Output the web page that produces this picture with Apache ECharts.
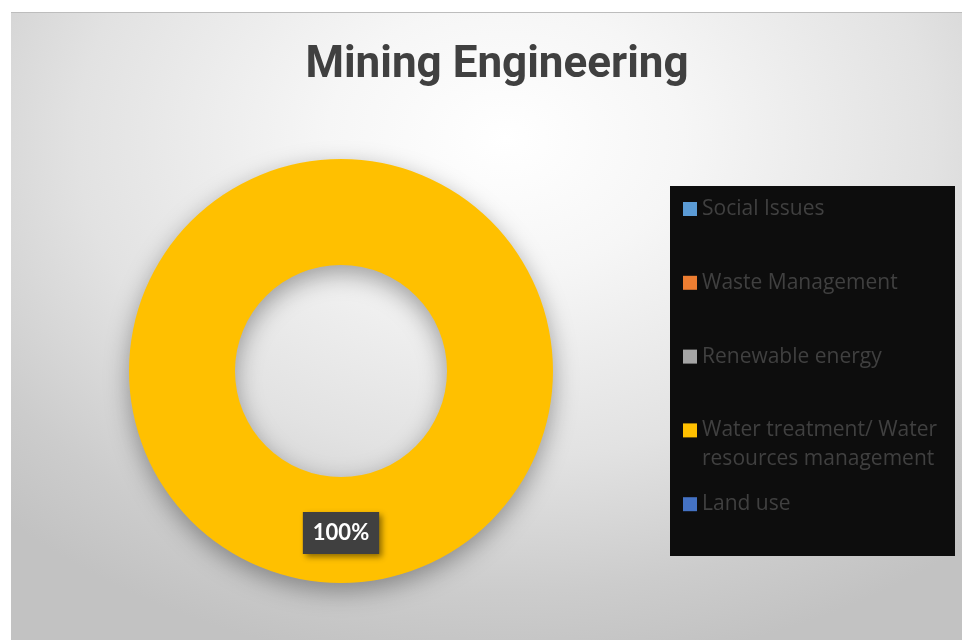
<!DOCTYPE html>
<html>
<head>
<meta charset="utf-8">
<script src="https://cdn.jsdelivr.net/npm/echarts@6/dist/echarts.min.js"></script>
<style>
  html, body { margin: 0; padding: 0; background: #fff; }
  #wrap { position: relative; width: 962px; height: 640px; }
  #bg {
    position: absolute; left: 11px; top: 12px; width: 951px; height: 628px;
    border-top: 1px solid #bdbdbd;
    background: radial-gradient(ellipse 75% 85% at 52% 20%, #ffffff 0%, #f6f6f6 25%, #e2e2e2 60%, #cccccc 85%, #c2c2c2 100%);
  }
  #chart { position: absolute; left: 0; top: 0; width: 962px; height: 640px; }
</style>
</head>
<body>
<div id="wrap">
  <div id="bg"></div>
  <div id="chart"></div>
</div>
<script>
// 数据
const categories = ['Social Issues', 'Waste Management', 'Renewable energy', 'Water treatment/ Water\nresources management', 'Land use']
const values = [0, 0, 0, 100, 0]
const colors = ['#5B9BD5', '#ED7D31', '#A5A5A5', '#FFC000', '#4472C4']

const chart = echarts.init(document.getElementById('chart'))

const lineH = 29

// 每个图例单独放置，首行与图标对齐
const legends = categories.map((name, i) => {
  const multi = name.indexOf('\n') >= 0
  const lines = multi ? 3 : 1
  return {
    orient: 'vertical',
    left: 683,
    top: 209 + i * 73.8 - lines * lineH / 2,
    padding: 0,
    itemWidth: 14,
    itemHeight: 14,
    itemGap: 0,
    icon: 'rect',
    selectedMode: false,
    data: [name],
    formatter: n => (n.indexOf('\n') >= 0 ? '\n' + n : n),
    textStyle: {
      color: '#404040',
      fontSize: 21,
      fontFamily: 'Open Sans',
      lineHeight: lineH
    }
  }
})

const option = {
  animation: false,
  color: colors,
  title: {
    text: 'Mining Engineering',
    left: 492,
    textAlign: 'center',
    top: 39,
    textStyle: {
      color: '#404040',
      fontSize: 44,
      fontWeight: 'bold',
      fontFamily: 'Roboto'
    }
  },
  legend: legends,
  graphic: [
    {
      type: 'rect',
      z: -1,
      shape: { x: 670, y: 186, width: 285, height: 370 },
      style: { fill: '#0d0d0d' }
    }
  ],
  series: [
    {
      type: 'pie',
      center: [341, 371],
      radius: [106, 212],
      startAngle: 90,
      minAngle: 0,
      avoidLabelOverlap: false,
      itemStyle: {
        shadowBlur: 25,
        shadowOffsetY: 8,
        shadowColor: 'rgba(0, 0, 0, 0.35)'
      },
      label: {
        position: 'inside',
        formatter: '{d}%',
        color: '#fff',
        fontSize: 22,
        fontWeight: 'bold',
        fontFamily: 'Lato',
        backgroundColor: '#404040',
        padding: [12, 10, 8, 10],
        shadowBlur: 6,
        shadowOffsetX: 3,
        shadowOffsetY: 3,
        shadowColor: 'rgba(0, 0, 0, 0.45)'
      },
      labelLine: { show: false },
      emphasis: { disabled: true },
      data: categories.map((name, i) => ({
        name: name,
        value: values[i],
        label: { show: values[i] > 0 }
      }))
    }
  ]
}

chart.setOption(option)
</script>
</body>
</html>
